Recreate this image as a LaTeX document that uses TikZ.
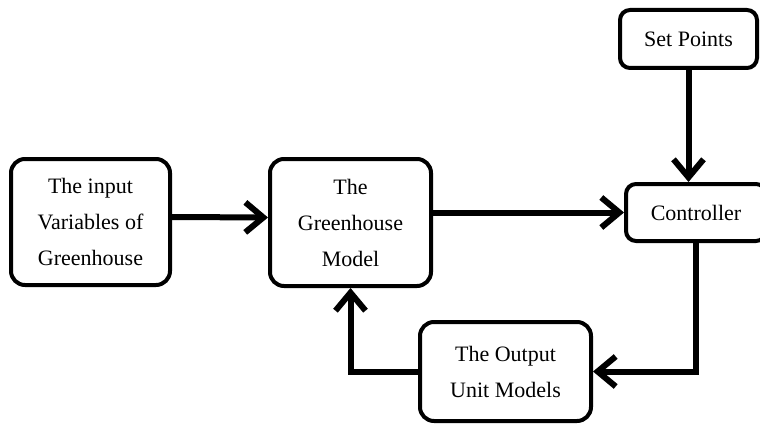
\documentclass[tikz,border=0pt]{standalone}
\usepackage{fontspec}
\setmainfont{Liberation Serif}
\usetikzlibrary{arrows.meta}
\begin{document}
\begin{tikzpicture}[x=1pt,y=-1pt,
  box/.style={draw=black,line width=4pt,rounded corners=14pt,align=center,
    font=\fontsize{22}{36}\selectfont,inner sep=0pt},
  sbox/.style={box,rounded corners=10pt},
  arr/.style={line width=6pt,-{Straight Barb[length=18pt,width=30pt]}}]
\useasboundingbox[fill=white] (0,0) rectangle (760,425);
\node[box,minimum width=159pt,minimum height=126pt] (in) at (90.5,222)
  {The input\\Variables of\\Greenhouse};
\node[box,minimum width=161pt,minimum height=127pt] (gh) at (350.5,222.5)
  {The\\Greenhouse\\Model};
\node[sbox,minimum width=137pt,minimum height=58pt] (sp) at (688.5,39)
  {Set Points};
\node[sbox,minimum width=140pt,minimum height=57pt] (ctrl) at (696,212.5)
  {Controller};
\node[box,minimum width=171pt,minimum height=99pt] (out) at (505.5,371.5)
  {The Output\\Unit Models};
\draw[arr] ([yshift=5pt]in.east) -- ([yshift=5pt]gh.west);
\draw[arr] (gh.east |- ctrl.west) -- (ctrl.west);
\draw[arr] (sp.south) -- (sp.south |- ctrl.north);
\draw[arr] (ctrl.south) |- (out.east);
\draw[arr] (out.west) -| (gh.south);
\end{tikzpicture}
\end{document}
